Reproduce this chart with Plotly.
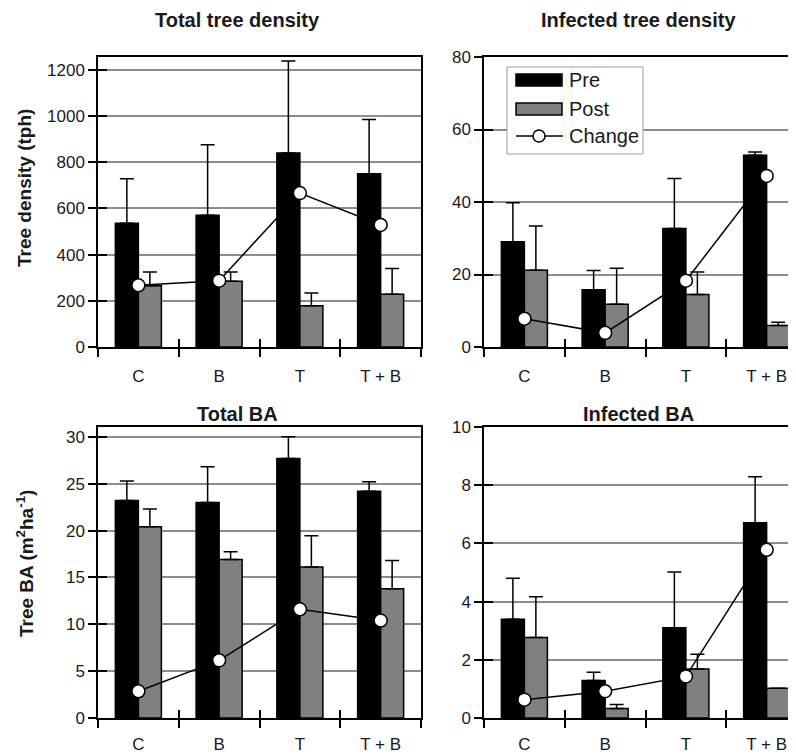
import plotly.graph_objects as go

# the page places the figure 8px in from the top-left corner of the window
OFF = 8
W, H = 796 - OFF, 754 - OFF

categories = ["C", "B", "T", "T + B"]

density_pre = [535, 570, 840, 750]
density_pre_err = [193, 305, 398, 235]
density_post = [265, 284, 179, 228]
density_post_err = [60, 41, 55, 112]
density_change = [267, 287, 666, 528]

inf_density_pre = [29.0, 15.8, 32.7, 52.9]
inf_density_pre_err = [10.8, 5.3, 13.8, 0.9]
inf_density_post = [21.2, 11.8, 14.5, 5.9]
inf_density_post_err = [12.2, 9.9, 6.2, 0.9]
inf_density_change = [7.8, 3.9, 18.3, 47.2]

ba_pre = [23.2, 23.0, 27.7, 24.2]
ba_pre_err = [2.1, 3.8, 2.3, 1.0]
ba_post = [20.4, 16.9, 16.1, 13.8]
ba_post_err = [1.9, 0.85, 3.35, 3.0]
ba_change = [2.85, 6.15, 11.6, 10.4]

inf_ba_pre = [3.39, 1.29, 3.10, 6.71]
inf_ba_pre_err = [1.41, 0.28, 1.92, 1.58]
inf_ba_post = [2.77, 0.33, 1.68, 1.02]
inf_ba_post_err = [1.40, 0.13, 0.51, 0.0]
inf_ba_change = [0.63, 0.92, 1.43, 5.78]

panel_titles = ["Total tree density", "Infected tree density", "Total BA", "Infected BA"]
y_ticks = [[0, 200, 400, 600, 800, 1000, 1200], [0, 20, 40, 60, 80],
           [0, 5, 10, 15, 20, 25, 30], [0, 2, 4, 6, 8, 10]]
y_ranges = [[0, 1255], [0, 80], [0, 31.05], [0, 10]]

panels = [
    (density_pre, density_pre_err, density_post, density_post_err, density_change),
    (inf_density_pre, inf_density_pre_err, inf_density_post, inf_density_post_err, inf_density_change),
    (ba_pre, ba_pre_err, ba_post, ba_post_err, ba_change),
    (inf_ba_pre, inf_ba_pre_err, inf_ba_post, inf_ba_post_err, inf_ba_change),
]

FONT = "Liberation Sans, Arial, sans-serif"
PRE_COLOR = "#000000"
POST_COLOR = "#808080"
GRID = "#8c8c8c"
TXT = "#1a1a1a"


def px_x(x):
    return (x - OFF) / W


def px_y(y):
    return 1 - (y - OFF) / H


# plot-area geometry (window pixels)
x_domains = [(98, 421), (484, 796), (98, 421), (484, 796)]
y_domains = [(57, 347), (57, 347), (427, 718), (427, 718)]
label_standoff = [13, 13, 10, 10]
cat_w = 80.75

fig = go.Figure()

for i, (pre, pre_e, post, post_e, chg) in enumerate(panels):
    ax = "" if i == 0 else str(i + 1)
    xref, yref = "x" + ax, "y" + ax
    oxref, oyref = "x%d" % (i + 5), "y%d" % (i + 5)
    err = dict(type="data", symmetric=False, color="black", thickness=1.5, width=7)
    fig.add_trace(go.Bar(
        x=categories, y=pre, name="Pre", xaxis=xref, yaxis=yref,
        marker=dict(color=PRE_COLOR, line=dict(color="black", width=1.5)),
        error_y=dict(err, array=pre_e, arrayminus=[0] * len(pre)),
        showlegend=False,
    ))
    fig.add_trace(go.Bar(
        x=categories, y=post, name="Post", xaxis=xref, yaxis=yref,
        marker=dict(color=POST_COLOR, line=dict(color="black", width=1.5)),
        error_y=dict(err, array=post_e, arrayminus=[0] * len(post)),
        showlegend=False,
    ))
    # the Change line sits on overlay axes that also carry the inner tick halves
    fig.add_trace(go.Scatter(
        x=categories, y=chg, name="Change", xaxis=oxref, yaxis=oyref,
        mode="lines+markers",
        line=dict(color="black", width=1.5),
        marker=dict(size=13, color="white", line=dict(color="black", width=1.5)),
        showlegend=False,
    ))

    x0, x1 = x_domains[i]
    y0, y1 = y_domains[i]
    left_panel = i in (0, 2)
    xr = [-0.5, -0.5 + (x1 - x0) / cat_w]
    xdom = [px_x(x0), px_x(x1)]
    ydom = [px_y(y1), px_y(y0)]
    fig.layout["xaxis" + ax] = dict(
        domain=xdom, anchor=yref, type="category",
        categoryorder="array", categoryarray=categories,
        range=xr, tickson="boundaries", ticks="outside",
        ticklen=8, tickwidth=1.5, tickcolor="black", automargin=False,
        showline=True, linecolor="black", linewidth=1.5, mirror=True,
        showgrid=False, zeroline=False, ticklabelstandoff=label_standoff[i],
        tickfont=dict(family=FONT, size=17, color=TXT),
    )
    fig.layout["yaxis" + ax] = dict(
        domain=ydom, anchor=xref, range=y_ranges[i],
        tickvals=y_ticks[i], ticks="outside", ticklen=8, tickwidth=1.5,
        tickcolor="black", showline=True, linecolor="black", linewidth=1.5,
        mirror=left_panel, showgrid=True, gridcolor=GRID, gridwidth=1.5,
        zeroline=False, automargin=False,
        tickfont=dict(family=FONT, size=17, color=TXT),
    )
    fig.layout["xaxis%d" % (i + 5)] = dict(
        domain=xdom, anchor=oyref, overlaying=xref, type="category",
        categoryorder="array", categoryarray=categories,
        range=xr, tickson="boundaries", ticks="inside", ticklen=8,
        tickwidth=1.5, tickcolor="black", showticklabels=False,
        showline=False, showgrid=False, zeroline=False, automargin=False,
    )
    fig.layout["yaxis%d" % (i + 5)] = dict(
        domain=ydom, anchor=oxref, overlaying=yref, range=y_ranges[i],
        tickvals=y_ticks[i], ticks="inside", ticklen=9, tickwidth=1.5,
        tickcolor="black", showticklabels=False, showline=False,
        showgrid=False, zeroline=False, automargin=False,
    )

annotations = []
title_pos = [(237, 20), (638, 20), (237, 414), (638, 414)]
for t, (tx, ty) in zip(panel_titles, title_pos):
    annotations.append(dict(
        text="<b>%s</b>" % t, x=px_x(tx), y=px_y(ty), xref="paper", yref="paper",
        xanchor="center", yanchor="middle", showarrow=False,
        font=dict(family=FONT, size=20, color=TXT),
    ))

annotations.append(dict(
    text="<b>Tree density (tph)</b>", x=px_x(25), y=px_y(188), xref="paper", yref="paper",
    xanchor="center", yanchor="middle", showarrow=False, textangle=-90,
    font=dict(family=FONT, size=19, color=TXT),
))
annotations.append(dict(
    text="<b>Tree BA (m<sup>2</sup>ha<sup>-1</sup>)</b>", x=px_x(25), y=px_y(564),
    xref="paper", yref="paper", xanchor="center", yanchor="middle", showarrow=False,
    textangle=-90, font=dict(family=FONT, size=19, color=TXT),
))

# custom legend (in top-right panel)
legend_labels = ["Pre", "Post", "Change"]
legend_rows = [80, 109, 136]
shapes = [
    dict(type="rect", xref="paper", yref="paper", x0=px_x(507), x1=px_x(643),
         y0=px_y(154), y1=px_y(67), line=dict(color="#9a9a9a", width=1),
         fillcolor="white", layer="above"),
    dict(type="rect", xref="paper", yref="paper", x0=px_x(516), x1=px_x(562),
         y0=px_y(legend_rows[0] + 6), y1=px_y(legend_rows[0] - 6),
         line=dict(color="black", width=1.5), fillcolor=PRE_COLOR, layer="above"),
    dict(type="rect", xref="paper", yref="paper", x0=px_x(516), x1=px_x(562),
         y0=px_y(legend_rows[1] + 6), y1=px_y(legend_rows[1] - 6),
         line=dict(color="black", width=1.5), fillcolor=POST_COLOR, layer="above"),
    dict(type="line", xref="paper", yref="paper", x0=px_x(516), x1=px_x(563),
         y0=px_y(legend_rows[2]), y1=px_y(legend_rows[2]),
         line=dict(color="black", width=1.5), layer="above"),
    dict(type="circle", xref="paper", yref="paper", x0=px_x(533), x1=px_x(545),
         y0=px_y(legend_rows[2] + 6), y1=px_y(legend_rows[2] - 6),
         line=dict(color="black", width=1.5), fillcolor="white", layer="above"),
]
for lab, ry in zip(legend_labels, legend_rows):
    annotations.append(dict(
        text=lab, x=px_x(567), y=px_y(ry), xref="paper", yref="paper",
        xanchor="left", yanchor="middle", showarrow=False,
        font=dict(family=FONT, size=20, color=TXT),
    ))

fig.update_layout(
    width=W, height=H, margin=dict(l=0, r=0, t=0, b=0, autoexpand=False),
    paper_bgcolor="white", plot_bgcolor="white",
    barmode="group", bargap=0.43, bargroupgap=0,
    showlegend=False, annotations=annotations, shapes=shapes,
    font=dict(family=FONT),
)

fig.write_html("out.html")
